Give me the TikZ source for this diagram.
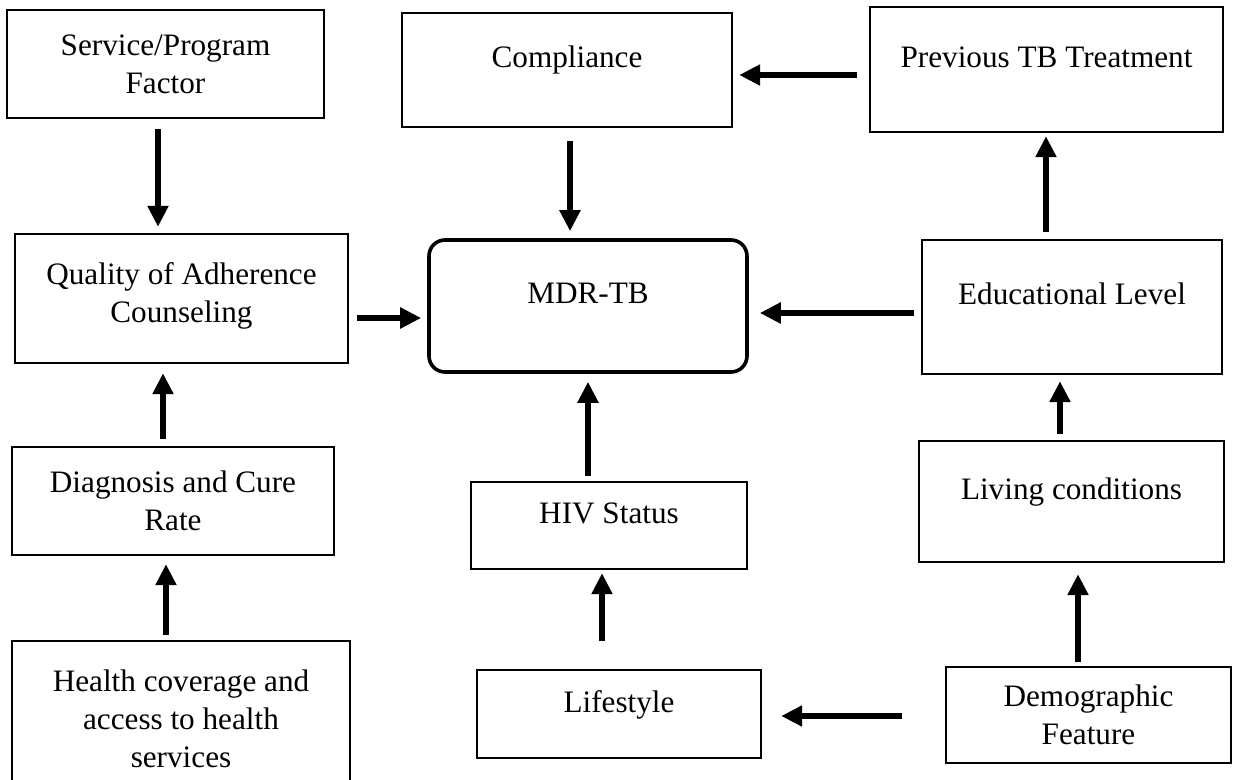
\documentclass[tikz,border=0pt]{standalone}
\usepackage{fontspec}
\setmainfont{Liberation Serif}
\usetikzlibrary{arrows.meta}

\begin{document}
\begin{tikzpicture}[
    x=0.5pt, y=-0.5pt,
    font=\fontsize{15.6}{19}\selectfont,
    box/.style={draw, line width=1.2pt, align=center, inner sep=0pt},
    onel/.style={text height=11pt, text depth=13pt},
    mdrbox/.style={draw, line width=1.8pt, rounded corners=8pt, align=center, inner sep=0pt},
    arr/.style={line width=3pt, -{Triangle[length=10.5pt, width=10pt]}},
  ]
  \useasboundingbox (0,0) rectangle (1233,780);
  % factor boxes
  \node[box, minimum width=158.5pt, minimum height=54pt] (svc) at (165.5,64) {Service/Program\\Factor};
  \node[box, onel, minimum width=165pt, minimum height=57pt] (comp) at (567,70) {Compliance};
  \node[box, onel, minimum width=176.5pt, minimum height=62.5pt] (prev) at (1046.5,69.5) {Previous TB Treatment};
  \node[box, text depth=6pt, minimum width=166.5pt, minimum height=64.5pt] (qual) at (181.5,298.5) {Quality of Adherence\\Counseling};
  \node[mdrbox, onel, minimum width=159pt, minimum height=66pt] (mdr) at (588,306) {MDR-TB};
  \node[box, onel, minimum width=150pt, minimum height=67pt] (edu) at (1072,307) {Educational Level};
  \node[box, minimum width=161pt, minimum height=54pt] (diag) at (173,501) {Diagnosis and Cure\\Rate};
  \node[box, onel, minimum width=138pt, minimum height=43.5pt] (hiv) at (609,525.5) {HIV Status};
  \node[box, onel, minimum width=152.5pt, minimum height=60.5pt] (live) at (1071.5,501.5) {Living conditions};
  \node[box, minimum width=169pt, minimum height=78pt] (hlth) at (181,719) {Health coverage and\\access to health\\services};
  \node[box, onel, minimum width=142pt, minimum height=44pt] (life) at (619,714) {Lifestyle};
  \node[box, minimum width=142.5pt, minimum height=48pt] (demo) at (1088.5,715) {Demographic\\Feature};
  % arrows
  \draw[arr] ([xshift=-3.75pt, yshift=-5pt]svc.south) -- ([xshift=-11.75pt, yshift=3pt]qual.north);
  \draw[arr] ([xshift=1.5pt, yshift=-6.5pt]comp.south) -- ([xshift=-9pt, yshift=3.5pt]mdr.north);
  \draw[arr] ([xshift=-6pt, yshift=-2.75pt]prev.west) -- ([xshift=3pt, yshift=-2.5pt]comp.east);
  \draw[arr] ([xshift=-13pt, yshift=3.5pt]edu.north) -- ([xshift=-0.25pt, yshift=-1.5pt]prev.south);
  \draw[arr] ([xshift=4pt, yshift=-9.75pt]qual.east) -- ([xshift=-3pt, yshift=-6pt]mdr.west);
  \draw[arr] ([xshift=-3.5pt, yshift=-3pt]edu.west) -- ([xshift=5.5pt, yshift=-3.5pt]mdr.east);
  \draw[arr] ([xshift=-5pt, yshift=3.5pt]diag.north) -- ([xshift=-9.25pt, yshift=-4.5pt]qual.south);
  \draw[arr] ([xshift=-10.5pt, yshift=2.5pt]hiv.north) -- ([yshift=-4pt]mdr.south);
  \draw[arr] ([xshift=-5.75pt, yshift=3pt]live.north) -- ([xshift=-6pt, yshift=-3pt]edu.south);
  \draw[arr] ([xshift=-7.5pt, yshift=2.5pt]hlth.north) -- ([xshift=-3.5pt, yshift=-4pt]diag.south);
  \draw[arr] ([xshift=-8.5pt, yshift=14pt]life.north) -- ([xshift=-3.5pt, yshift=-1.5pt]hiv.south);
  \draw[arr] ([xshift=-5.25pt, yshift=2pt]demo.north) -- ([xshift=3.25pt, yshift=-5.5pt]live.south);
  \draw[arr] ([xshift=-21.5pt, yshift=-0.5pt]demo.west) -- ([xshift=9.5pt, yshift=-1pt]life.east);
\end{tikzpicture}
\end{document}
